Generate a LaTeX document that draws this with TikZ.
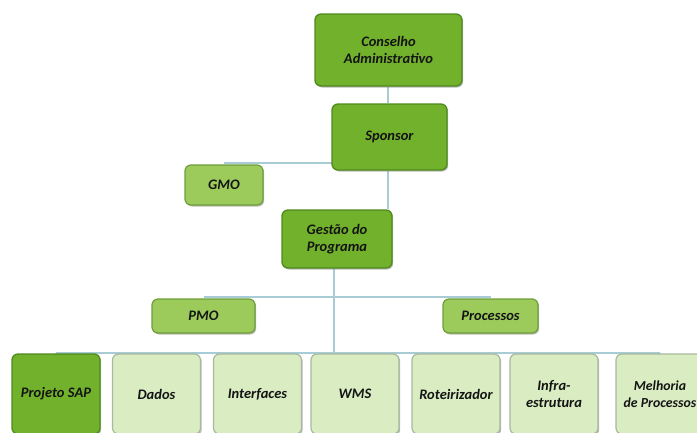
\documentclass[tikz,border=0pt]{standalone}
\usepackage{fontspec}
\setmainfont{Carlito}
\usetikzlibrary{shadows,backgrounds}
\definecolor{dkfill}{HTML}{72B12C}
\definecolor{dkedge}{HTML}{4E8A1C}
\definecolor{mdfill}{HTML}{9CCB5C}
\definecolor{mdedge}{HTML}{6E9E3A}
\definecolor{ltfill}{HTML}{D9ECC2}
\definecolor{ltedge}{HTML}{A9B9A0}
\definecolor{conn}{HTML}{A8CCD6}
\definecolor{txt}{HTML}{141414}
\tikzset{
  box/.style={rectangle, rounded corners=6pt, align=center, text=txt,
    font=\fontsize{14.5}{17}\selectfont\bfseries\itshape, inner sep=2pt,
    drop shadow={shadow xshift=1.2pt, shadow yshift=-1.5pt, fill=black!45, opacity=0.6}},
  dkbox/.style={box, fill=dkfill, draw=dkedge, line width=1.3pt},
  mdbox/.style={box, fill=mdfill, draw=mdedge, line width=1.2pt},
  ltbox/.style={box, fill=ltfill, draw=ltedge, line width=1.2pt},
  leaf/.style={minimum width=88pt, minimum height=80pt},
  link/.style={draw=conn, line width=2pt}
}
\begin{document}
\begin{tikzpicture}[x=1pt,y=-1pt]
\useasboundingbox (0,0) rectangle (697,432);
\node[dkbox, minimum width=147pt, minimum height=72pt] (cons) at (388.5,50) {Conselho\\Administrativo};
\node[dkbox, minimum width=115pt, minimum height=66pt] (spon) at (389.5,137) {Sponsor};
\node[mdbox, minimum width=78pt, minimum height=40pt] (gmo) at (224,185) {GMO};
\node[dkbox, minimum width=110pt, minimum height=58pt] (gest) at (337,239) {Gestão do\\Programa};
\node[mdbox, minimum width=103pt, minimum height=34pt] (pmo) at (203.5,316) {PMO};
\node[mdbox, minimum width=95pt, minimum height=34pt] (proc) at (490.5,316) {Processos};
\node[dkbox, leaf] (sap) at (56,394) {Projeto SAP};
\node[ltbox, leaf] (dados) at (156.5,394) {Dados};
\node[ltbox, leaf] (intf) at (257.5,394) {Interfaces};
\node[ltbox, leaf] (wms) at (355,394) {WMS};
\node[ltbox, leaf] (rot) at (456,394) {Roteirizador};
\node[ltbox, leaf] (infra) at (554,394) {Infra-\\estrutura};
\node[ltbox, leaf, font=\fontsize{13.8}{17}\selectfont\bfseries\itshape] (melh) at (660,394) {Melhoria\\de Processos};
\begin{pgfonlayer}{background}
\coordinate (gmoj) at (388,163);
\coordinate (asj) at (334,297);
\coordinate (bj) at (334,353);
\draw[link] (cons.south -| gmoj) -- (spon.north -| gmoj);
\draw[link] (spon.south -| gmoj) -- (gest.north -| gmoj);
\draw[link] (gmoj) -- (gmoj -| gmo.center);
\draw[link] (gest.south -| bj) -- (bj);
\draw[link] (asj -| pmo.center) -- (asj -| proc.center);
\draw[link] (bj -| sap.center) -- (bj -| melh.center);
\foreach \n in {sap,dados,intf,wms,rot,infra,melh} \draw[link] (bj -| \n.center) -- (\n.north);
\end{pgfonlayer}
\end{tikzpicture}
\end{document}
